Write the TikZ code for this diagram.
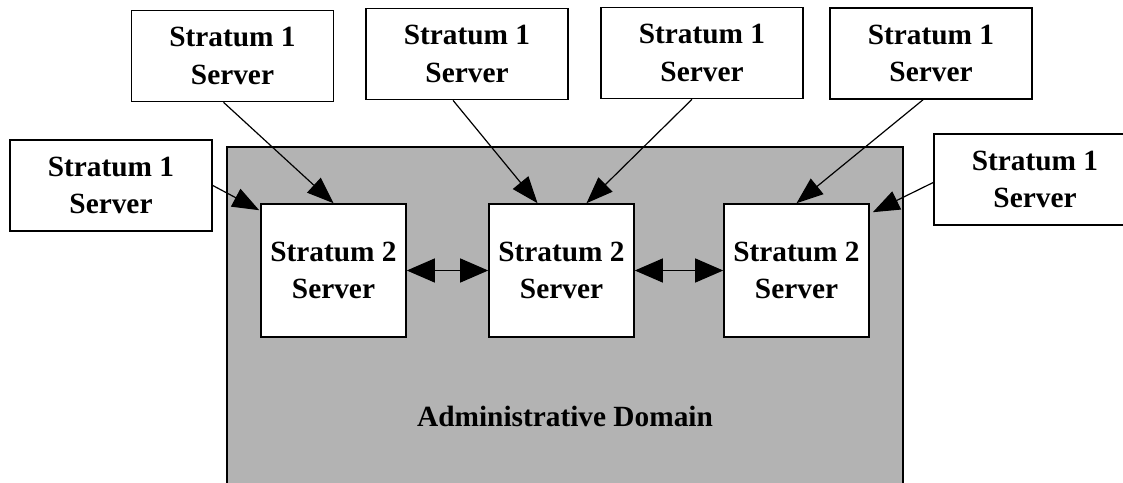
\documentclass[tikz,border=0pt]{standalone}
\usepackage{fontspec}
\setmainfont{Liberation Serif}
\usetikzlibrary{arrows.meta,calc}
\definecolor{domgray}{RGB}{179,179,179}

\tikzset{every picture/.style={line width=0.75pt}}
\tikzset{
  srvbox/.style={draw,line width=1.2pt,fill=white,align=center,inner sep=0pt,
    font=\bfseries\fontsize{22}{28}\selectfont},
  s1box/.style={srvbox,minimum width=151.5pt,minimum height=68.25pt},
  s2box/.style={srvbox,minimum width=108.75pt,minimum height=99.75pt},
  feed/.style={line width=0.9pt,-{Triangle[length=20pt,width=15pt]}},
  peer/.style={line width=0.9pt,{Triangle[length=21pt,width=18pt]}-{Triangle[length=21pt,width=18pt]}}
}

\begin{document}
\begin{tikzpicture}[x=0.75pt,y=0.75pt,yscale=-1,xscale=1]
%set diagram size 1123 x 482
\clip (0,0) rectangle (1123,482);

%Shape: Rectangle [domain]
\draw [fill=domgray, line width=1.2pt] (227,147) rectangle (903,500);
% Text Node
\node [font=\bfseries\fontsize{22}{28}\selectfont] (dom) at (565,416) {Administrative Domain};

%Shape: Rectangle [stratum 2]
\node [s2box] (s2a) at (333.5,270.5) {Stratum 2\\Server};
\node [s2box] (s2b) at (561.5,270.5) {Stratum 2\\Server};
\node [s2box] (s2c) at (796.5,270.5) {Stratum 2\\Server};

%Shape: Rectangle [stratum 1]
\node [s1box] (s1a) at (232.5,56) {Stratum 1\\Server};
\node [s1box] (s1b) at (467,54) {Stratum 1\\Server};
\node [s1box] (s1c) at (702,53) {Stratum 1\\Server};
\node [s1box] (s1d) at (931,53.5) {Stratum 1\\Server};
\node [s1box] (s1e) at (111,185.5) {Stratum 1\\Server};
\node [s1box] (s1f) at (1035,179.5) {Stratum 1\\Server};

%Straight Lines
\draw [feed] ($(s1a.south)+(-9,0)$) -- (s2a.north);
\draw [feed] (s1e.east) -- ($(s2a.north west)+(-1,7)$);
\draw [feed] ($(s1b.south)+(-14,0)$) -- ($(s2b.north)+(-24,0)$);
\draw [feed] ($(s1c.south)+(-10,0)$) -- ($(s2b.north)+(25,0)$);
\draw [feed] ($(s1d.south)+(-8,0)$) -- (s2c.north);
\draw [feed] ($(s1f.west)+(0,3)$) -- ($(s2c.north east)+(3,9)$);

%Straight Lines [peers]
\draw [peer] (s2a.east) -- (s2b.west);
\draw [peer] (s2b.east) -- (s2c.west);

\end{tikzpicture}
\end{document}
